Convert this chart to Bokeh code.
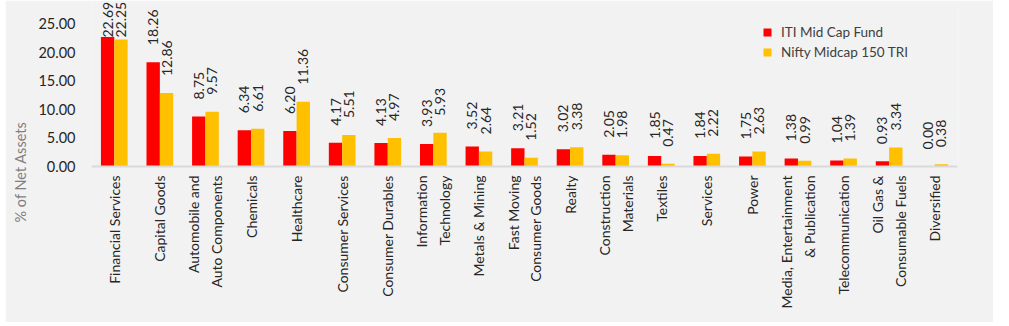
import numpy as np
from bokeh.plotting import figure
from bokeh.models import (ColumnDataSource, FixedTicker, NumeralTickFormatter,
                          Title, Legend, LegendItem)
from bokeh.transform import dodge
from bokeh.core.properties import value
from bokeh.embed import file_html
from bokeh.resources import INLINE

categories = ["Financial Services", "Capital Goods", "Automobile and\nAuto Components",
              "Chemicals", "Healthcare", "Consumer Services", "Consumer Durables",
              "Information\nTechnology", "Metals & Mining", "Fast Moving\nConsumer Goods",
              "Realty", "Construction\nMaterials", "Textiles", "Services", "Power",
              "Media, Entertainment\n& Publication", "Telecommunication",
              "Oil Gas &\nConsumable Fuels", "Diversified"]
iti_mid_cap = [22.69, 18.26, 8.75, 6.34, 6.20, 4.17, 4.13, 3.93, 3.52, 3.21,
               3.02, 2.05, 1.85, 1.84, 1.75, 1.38, 1.04, 0.93, 0.00]
nifty_midcap = [22.25, 12.86, 9.57, 6.61, 11.36, 5.51, 4.97, 5.93, 2.64, 1.52,
                3.38, 1.98, 0.47, 2.22, 2.63, 0.99, 1.39, 3.34, 0.38]
series_names = ["ITI Mid Cap Fund", "Nifty Midcap 150 TRI"]
y_ticks = [0, 5, 10, 15, 20, 25]
y_title = "% of Net Assets"

RED = "#FF0000"
YELLOW = "#FFC000"
BG = "#F2F2F2"
FONT = "Lato"
LABEL_CAP = 19.6  # keep data labels inside the plot area

src = ColumnDataSource(dict(
    cat=categories,
    iti=iti_mid_cap,
    nifty=nifty_midcap,
    iti_lbl=["%.2f" % v for v in iti_mid_cap],
    nifty_lbl=["%.2f" % v for v in nifty_midcap],
    iti_pos=np.minimum(np.array(iti_mid_cap), LABEL_CAP),
    nifty_pos=np.minimum(np.array(nifty_midcap), LABEL_CAP),
))

p = figure(x_range=categories, y_range=(0, 28.72), width=988, height=322,
           output_backend="svg", toolbar_location=None,
           min_border_left=86, min_border_right=36, min_border_top=2, min_border_bottom=156)
p.margin = (0, 0, 0, 5)
p.background_fill_color = BG
p.border_fill_color = BG
p.outline_line_color = None
p.xgrid.grid_line_color = None
p.ygrid.grid_line_color = None
p.x_range.range_padding = 0

bw = 0.293
r1 = p.vbar(x=dodge("cat", -bw / 2, range=p.x_range), top="iti", width=bw,
            source=src, fill_color=RED, line_color=None)
r2 = p.vbar(x=dodge("cat", bw / 2, range=p.x_range), top="nifty", width=bw,
            source=src, fill_color=YELLOW, line_color=None)

for xs, col in ((-bw / 2, "iti"), (bw / 2, "nifty")):
    p.text(x=dodge("cat", xs, range=p.x_range), y=col + "_pos", text=col + "_lbl",
           source=src, angle=np.pi / 2, text_align="left", text_baseline="middle",
           y_offset=-17, text_font=value(FONT), text_font_size="14px",
           text_color="#262626")

# axes
p.yaxis.ticker = FixedTicker(ticks=y_ticks)
p.yaxis.formatter = NumeralTickFormatter(format="0.00")
p.yaxis.axis_line_color = None
p.yaxis.major_tick_line_color = None
p.yaxis.minor_tick_line_color = None
p.yaxis.major_tick_out = 0
p.yaxis.major_tick_in = 0
p.yaxis.major_label_standoff = 16
p.yaxis.major_label_text_font = FONT
p.yaxis.major_label_text_font_size = "14.5px"
p.yaxis.major_label_text_color = "#262626"

p.xaxis.axis_line_color = "#D9D9D9"
p.xaxis.axis_line_width = 2
p.xaxis.major_tick_line_color = None
p.xaxis.minor_tick_line_color = None
p.xaxis.major_tick_out = 0
p.xaxis.major_tick_in = 0
p.xaxis.major_label_orientation = np.pi / 2
p.xaxis.major_label_standoff = 9
p.xaxis.major_label_text_font = FONT
p.xaxis.major_label_text_font_size = "14px"
p.xaxis.major_label_text_color = "#262626"
p.xaxis.major_label_text_line_height = 1.35

p.add_layout(Title(text=y_title, align="left", vertical_align="top", offset=-56,
                   standoff=10, text_font=FONT, text_font_size="14.5px",
                   text_font_style="normal", text_color="#7F7F7F"), "left")

legend = Legend(items=[LegendItem(label=series_names[0], renderers=[r1]),
                       LegendItem(label=series_names[1], renderers=[r2])],
                location=(671, 104), padding=0, margin=0, spacing=0,
                glyph_width=10, glyph_height=10, label_standoff=9, label_height=20,
                label_text_font=FONT, label_text_font_size="13.5px",
                label_text_color="#404040", border_line_color=None,
                background_fill_alpha=0)
p.add_layout(legend)

open("out.html", "w").write(file_html(p, INLINE))
